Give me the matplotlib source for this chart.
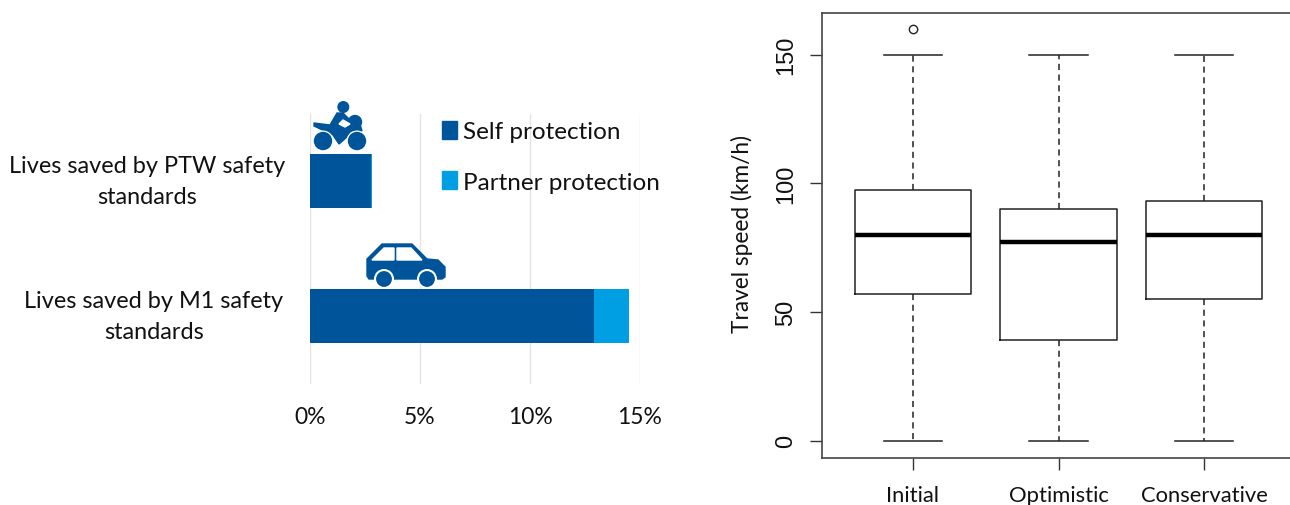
import matplotlib
matplotlib.use("Agg")
import matplotlib.pyplot as plt
from matplotlib.patches import Polygon, Circle, Rectangle

W, H = 1290, 506
DARK = "#00559A"
LIGHT = "#009FE3"

# left chart data
bar_labels = ["Lives saved by M1 safety\nstandards", "Lives saved by PTW safety\nstandards"]
self_protection = [12.9, 2.75]
partner_protection = [1.58, 0.05]
pct_ticks = [0, 5, 10, 15]
pct_labels = ["0%", "5%", "10%", "15%"]

# right chart data (five-number summaries)
scenarios = ["Initial", "Optimistic", "Conservative"]
whisker_low = [0, 0, 0]
q1 = [57, 39, 55]
median = [80, 77, 80]
q3 = [97.5, 90, 93]
whisker_high = [150, 150, 150]
fliers = [[160], [], []]
speed_ticks = [0, 50, 100, 150]


def axes_px(fig, l, t, r, b):
    return fig.add_axes([l / W, 1 - b / H, (r - l) / W, (b - t) / H])


fig = plt.figure(figsize=(W / 100, H / 100), dpi=100)
fig.patch.set_facecolor("white")
FONT = ["Lato", "DejaVu Sans"]
INK = "#111111"

# ---------- left chart
ax = axes_px(fig, 310, 114.5, 640, 384.5)
ax.set_xlim(0, 15)
ax.set_ylim(-0.5, 1.5)
for s in ax.spines.values():
    s.set_visible(False)
ypos = [0, 1]
ax.barh(ypos, self_protection, height=0.4, color=DARK, zorder=3)
ax.barh(ypos, partner_protection, left=self_protection, height=0.4, color=LIGHT, zorder=3)
ax.set_xticks(pct_ticks)
ax.set_xticklabels(pct_labels, fontsize=16.5, family=FONT, color=INK)
ax.tick_params(axis="x", length=0, pad=16)
ax.set_yticks(ypos)
ax.set_yticklabels(bar_labels, fontsize=16.9, family=FONT, color=INK, ha="center", va="center", linespacing=1.56)
ax.tick_params(axis="y", length=0)
y_major = ax.yaxis.get_major_ticks()
y_major[0].set_pad(112.5)
y_major[1].set_pad(117.3)
ax.grid(axis="x", color="#E4E4E4", lw=1, zorder=0)
ax.set_axisbelow(True)
handles = [Rectangle((0, 0), 1, 1, color=DARK), Rectangle((0, 0), 1, 1, color=LIGHT)]
leg = fig.legend(handles, ["Self protection", "Partner protection"], loc="upper left",
                 bbox_to_anchor=(442 / W, 1 - 122 / H), frameon=False, borderaxespad=0, borderpad=0,
                 handlelength=0.62, handleheight=0.75, handletextpad=0.25, labelspacing=1.19,
                 prop={"family": FONT, "size": 17.5})
for t in leg.get_texts():
    t.set_color(INK)

# icons in a pixel-space overlay
ov = fig.add_axes([0, 0, 1, 1], zorder=5)
ov.set_xlim(0, W)
ov.set_ylim(H, 0)
ov.axis("off")
# motorcycle
ov.add_patch(Circle((343.3, 108), 5.3, color=DARK))
ov.add_patch(Circle((355, 123), 6.5, color=DARK))
ov.add_patch(Polygon([[314, 124], [330, 126], [337, 114], [343, 114], [350, 121], [360, 125], [362, 132],
                      [350, 133], [347, 138], [339, 145], [333, 136], [314, 127]],
                     closed=True, color=DARK))
ov.add_patch(Polygon([[339, 125], [343, 121], [350, 125], [345, 128]], closed=True, color="white"))
for cx in (323, 357):
    ov.add_patch(Circle((cx, 142), 9.8, color="white"))
    ov.add_patch(Circle((cx, 142), 8.5, color=DARK))
# car
ov.add_patch(Polygon([[367, 260], [382, 245], [412, 245], [427, 260], [438, 261], [445, 268],
                      [445, 278], [442, 280], [369, 280], [367, 277]], closed=True, color=DARK))
ov.add_patch(Polygon([[372, 261], [384, 249], [394, 249], [394, 261]], closed=True, color="white"))
ov.add_patch(Polygon([[397, 249], [411, 249], [422, 261], [397, 261]], closed=True, color="white"))
for cx in (384, 427):
    ov.add_patch(Circle((cx, 280), 9.3, color="white"))
    ov.add_patch(Circle((cx, 280), 7.2, color=DARK))

# ---------- right chart
bx = axes_px(fig, 822, 13.5, 1295, 458.5)
stats = [dict(med=m, q1=a, q3=b, whislo=l, whishi=h, fliers=f, label=n)
         for m, a, b, l, h, f, n in zip(median, q1, q3, whisker_low, whisker_high, fliers, scenarios)]
bx.bxp(stats, positions=[1, 2, 3], widths=0.8,
       boxprops=dict(color="#222222", lw=1.1),
       whiskerprops=dict(color="#222222", lw=1.1, linestyle=(0, (4, 3))),
       capprops=dict(color="#222222", lw=1.1),
       medianprops=dict(color="black", lw=3.2, solid_capstyle="butt"),
       flierprops=dict(marker="o", markersize=6, markerfacecolor="white", markeredgecolor="#222222",
                       markeredgewidth=1))
bx.set_xlim(0.375, 3.625)
bx.set_ylim(-6.6, 166.4)
bx.set_yticks(speed_ticks)
bx.set_yticklabels([str(v) for v in speed_ticks], rotation=90, va="center", fontsize=17,
                   family=["Liberation Sans"], color=INK)
bx.tick_params(axis="y", length=8.6, width=1, color="#333333", pad=9)
bx.set_xticks([1, 2, 3])
bx.set_xticklabels(scenarios, fontsize=15.8, family=FONT, color=INK)
bx.tick_params(axis="x", length=8.6, width=1, color="#333333", pad=11.5)
for s in bx.spines.values():
    s.set_color("#444444")
    s.set_linewidth(1.2)
bx.set_ylabel("Travel speed (km/h)", fontsize=16.3, family=FONT, color=INK, labelpad=16, y=0.504)

fig.savefig("out.png", dpi=100)
